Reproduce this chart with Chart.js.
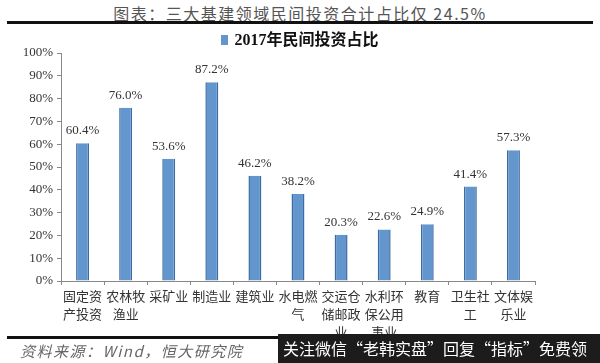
<!DOCTYPE html>
<html>
<head>
<meta charset="utf-8">
<script src="https://cdn.jsdelivr.net/npm/chart.js@4.4.0/dist/chart.umd.min.js"></script>
<style>
  body { margin: 0; background: #fff; }
  #wrap { position: relative; width: 600px; height: 363px; overflow: hidden; background: #fff; }
  #title { position: absolute; top: 1px; left: 0; width: 600px; text-align: center;
    font: 16px "Noto Sans CJK SC", sans-serif; color: #555; letter-spacing: 1.5px; }
  .rule { position: absolute; left: 7px; width: 586px; height: 3px; background: #111; }
  #legend { position: absolute; top: 30px; left: 0; width: 600px; text-align: center; z-index: 2;
    font: bold 16px "Liberation Serif", "Noto Sans CJK SC", serif; color: #111; line-height: 20px; }
  #legend i { display: inline-block; width: 7px; height: 10px; background: #6396cd; margin-right: 6px; vertical-align: 0px; }
  #chartBox { position: absolute; left: 0; top: 25px; width: 600px; height: 323px; }
  #source { position: absolute; left: 20px; top: 340px; font: italic 15px "Noto Sans CJK SC", sans-serif; color: #666; letter-spacing: 1.5px; z-index: 3; }
  #banner { position: absolute; left: 278px; top: 334px; width: 322px; height: 29px; background: #1c1c1c;
    color: #fff; font: 16px "Noto Sans CJK SC", sans-serif; line-height: 29px; padding-left: 5px; z-index: 4; white-space: nowrap; }
  #cover { position: absolute; left: 0; top: 336px; width: 600px; height: 27px; background: #fff; z-index: 2; }
</style>
</head>
<body>
<div id="wrap">
  <div id="title">图表：三大基建领域民间投资合计占比仅 24.5%</div>
  <div class="rule" style="top:21px"></div>
  <div id="chartBox"><canvas id="mainChart" width="600" height="323"></canvas></div>
  <div id="legend"></div>
  <div id="cover"></div>
  <div class="rule" style="top:336px; z-index:3"></div>
  <div id="source">资料来源：Wind，恒大研究院</div>
  <div id="banner">关注微信“老韩实盘”回复“指标”免费领</div>
</div>
<script>
var categories = [
    ['固定资', '产投资'], ['农林牧', '渔业'], '采矿业', '制造业', '建筑业', ['水电燃', '气'],
    ['交运仓', '储邮政', '业'], ['水利环', '保公用', '事业'], '教育', ['卫生社', '工'], ['文体娱', '乐业']
];
var shares = [60.4, 76.0, 53.6, 87.2, 46.2, 38.2, 20.3, 22.6, 24.9, 41.4, 57.3];
var seriesName = '2017年民间投资占比';

// value labels above bars
var valueLabels = {
    id: 'valueLabels',
    afterDatasetsDraw: function (chart) {
        var ctx = chart.ctx;
        var meta = chart.getDatasetMeta(0);
        ctx.save();
        ctx.font = '13px "Liberation Serif", serif';
        ctx.fillStyle = '#333';
        ctx.textAlign = 'center';
        ctx.textBaseline = 'bottom';
        meta.data.forEach(function (bar, i) {
            ctx.fillText(shares[i].toFixed(1) + '%', bar.x, bar.y - 6);
        });
        ctx.restore();
    }
};

var mainChart = new Chart(document.getElementById('mainChart'), {
    type: 'bar',
    data: {
        labels: categories,
        datasets: [{
            label: seriesName,
            data: shares,
            backgroundColor: '#6396cd',
            borderColor: '#3b6ca8',
            borderWidth: { left: 1.5, right: 1.5, top: 0, bottom: 0 },
            categoryPercentage: 1,
            barPercentage: 0.3
        }]
    },
    options: {
        responsive: false,
        animation: false,
        maintainAspectRatio: false,
        layout: { padding: { left: 0, right: 65, top: 28, bottom: 0 } },
        plugins: {
            tooltip: { enabled: false },
            legend: { display: false }
        },
        scales: {
            y: {
                min: 0,
                max: 100,
                ticks: {
                    stepSize: 10,
                    color: '#333',
                    padding: 4,
                    font: { family: '"Liberation Serif", serif', size: 13 },
                    callback: function (v) { return v + '%'; }
                },
                grid: { drawOnChartArea: false, tickLength: 4, color: '#888' },
                border: { color: '#888' },
                afterFit: function (scale) { scale.width = 61; }
            },
            x: {
                ticks: {
                    color: '#333',
                    padding: 2,
                    maxRotation: 0,
                    autoSkip: false,
                    font: { family: '"Noto Sans CJK SC", sans-serif', size: 13, lineHeight: 1.38 }
                },
                grid: { drawOnChartArea: false, tickLength: 4, color: '#888', offset: true },
                border: { color: '#888' },
                afterFit: function (scale) { scale.height = 67; }
            }
        }
    },
    plugins: [valueLabels]
});

// legend drawn from the dataset
var ds = mainChart.data.datasets[0];
document.getElementById('legend').innerHTML = '<i style="background:' + ds.backgroundColor + '"></i>' + ds.label;
</script>
</body>
</html>
